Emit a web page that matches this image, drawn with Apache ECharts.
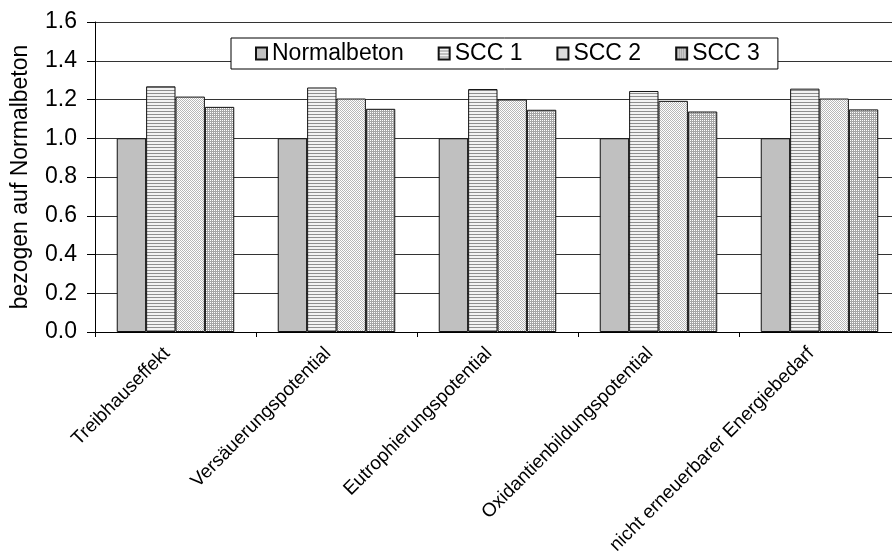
<!DOCTYPE html>
<html>
<head>
<meta charset="utf-8">
<script src="https://cdn.jsdelivr.net/npm/echarts@6/dist/echarts.min.js"></script>
<style>
html,body{margin:0;padding:0;background:#fff;}
#chart{width:892px;height:552px;}
</style>
</head>
<body>
<div id="chart"></div>
<script>
const categories = ['Treibhauseffekt','Versäuerungspotential','Eutrophierungspotential','Oxidantienbildungspotential','nicht erneuerbarer Energiebedarf'];
const seriesNames = ['Normalbeton','SCC 1','SCC 2','SCC 3'];
const normalbeton = [1.0, 1.0, 1.0, 1.0, 1.0];
const scc1 = [1.268, 1.262, 1.254, 1.244, 1.256];
const scc2 = [1.215, 1.205, 1.200, 1.193, 1.205];
const scc3 = [1.162, 1.152, 1.147, 1.138, 1.149];
const yTicks = { min: 0, max: 1.6, interval: 0.2 };
const yAxisName = 'bezogen auf Normalbeton';

function makePattern(w, h, painter) {
  const c = document.createElement('canvas');
  c.width = w; c.height = h;
  const ctx = c.getContext('2d');
  painter(ctx);
  return { image: c, repeat: 'repeat' };
}
const stripes = makePattern(4, 3, ctx => {
  ctx.fillStyle = '#f2f2f2'; ctx.fillRect(0, 0, 4, 3);
  ctx.fillStyle = '#8e8e8e'; ctx.fillRect(0, 0, 4, 1);
});
const lightDots = makePattern(2, 2, ctx => {
  ctx.fillStyle = '#ffffff'; ctx.fillRect(0, 0, 2, 2);
  ctx.fillStyle = '#b8b8b8'; ctx.fillRect(0, 0, 1, 1); ctx.fillRect(1, 1, 1, 1);
});
const darkDots = makePattern(2, 2, ctx => {
  ctx.fillStyle = '#a6a6a6'; ctx.fillRect(0, 0, 2, 2);
  ctx.fillStyle = '#ffffff'; ctx.fillRect(0, 0, 1, 1);
});

const fills = ['#c0c0c0', stripes, lightDots, darkDots];
const values = [normalbeton, scc1, scc2, scc3];
const font = 'Liberation Sans, Arial, Helvetica, sans-serif';

const chart = echarts.init(document.getElementById('chart'), null, { renderer: 'canvas' });
chart.setOption({
  animation: false,
  backgroundColor: '#fff',
  textStyle: { fontFamily: font, color: '#000' },
  grid: { left: 95, top: 22, width: 805, height: 310, containLabel: false, outerBoundsMode: 'none' },
  legend: {
    left: 231, top: 38,
    padding: [4, 18, 4, 24],
    backgroundColor: '#fff',
    borderColor: '#000', borderWidth: 1, borderRadius: 0,
    icon: 'rect', itemWidth: 11, itemHeight: 12, itemGap: 34,
    textStyle: { fontSize: 23, color: '#000', fontFamily: font },
    data: seriesNames
  },
  xAxis: {
    type: 'category',
    data: categories,
    axisLine: { lineStyle: { color: '#000', width: 1 } },
    axisTick: { show: true, length: 5, lineStyle: { color: '#000' } },
    axisLabel: { interval: 0, rotate: 45, fontSize: 19, margin: 10, padding: [0, 12, 0, 0], color: '#000', fontFamily: font },
    splitLine: { show: false }
  },
  yAxis: {
    type: 'value',
    min: yTicks.min, max: yTicks.max, interval: yTicks.interval,
    name: yAxisName, nameLocation: 'middle', nameGap: 63,
    nameTextStyle: { fontSize: 23, color: '#000', fontFamily: font },
    axisLine: { show: true, lineStyle: { color: '#000', width: 1 } },
    axisTick: { show: true, length: 8, lineStyle: { color: '#000' } },
    axisLabel: { fontSize: 23, margin: 18, color: '#000', fontFamily: font, formatter: v => v.toFixed(1) },
    splitLine: { show: true, lineStyle: { color: '#333', width: 1 } }
  },
  series: seriesNames.map((n, i) => ({
    name: n,
    type: 'bar',
    data: values[i],
    barGap: '0%',
    barCategoryGap: '27%',
    itemStyle: { color: fills[i], borderColor: '#111', borderWidth: 1 }
  }))
});
</script>
</body>
</html>
